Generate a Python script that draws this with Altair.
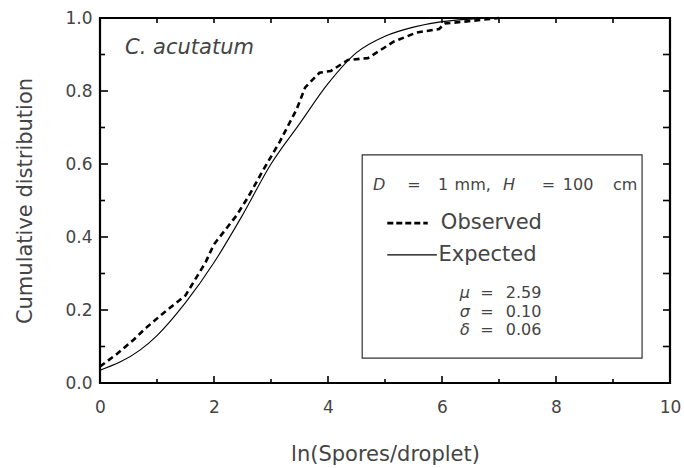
import altair as alt
import pandas as pd

# ---- data ----
obs_x = [0.0, 0.3, 0.6, 0.8, 1.1, 1.5, 1.85, 2.0, 2.2, 2.4, 2.6, 2.85, 3.15, 3.45, 3.6,
         3.85, 4.05, 4.35, 4.7, 4.9, 5.15, 5.55, 5.95, 6.05, 6.4, 7.0]
obs_y = [0.045, 0.08, 0.12, 0.15, 0.19, 0.24, 0.33, 0.38, 0.42, 0.46, 0.51, 0.58, 0.66,
         0.75, 0.81, 0.85, 0.855, 0.885, 0.89, 0.91, 0.935, 0.96, 0.97, 0.985, 0.99, 1.0]
exp_x = [0.0, 0.7, 1.0, 1.5, 2.0, 2.5, 3.0, 3.5, 4.0, 4.5, 5.0, 5.5, 6.0, 6.5, 7.0]
exp_y = [0.035, 0.09, 0.13, 0.22, 0.33, 0.46, 0.60, 0.71, 0.82, 0.905, 0.95, 0.975,
         0.99, 0.997, 1.0]

x_label_values = [0, 2, 4, 6, 8, 10]
y_label_values = [0.0, 0.2, 0.4, 0.6, 0.8, 1.0]
x_major = [2, 4, 6, 8]
x_minor = [1, 3, 5, 7, 9]
x_top = [1, 2, 3, 4, 5, 6, 7, 8, 9]
y_major = [0.2, 0.4, 0.6, 0.8]
y_minor = [0.1, 0.3, 0.5, 0.7, 0.9]
y_right = [0.1, 0.2, 0.3, 0.4, 0.5, 0.6, 0.7, 0.8, 0.9]

W, H = 570, 365
FONT = "DejaVu Sans"
TXT = "#444444"

xs = alt.Scale(domain=[0, 10], nice=False, zero=False)
ys = alt.Scale(domain=[0, 1], nice=False, zero=False)

X_AXIS = alt.Axis(title="ln(Spores/droplet)", values=x_label_values, format="d",
                  ticks=False, domain=False, grid=False, labelPadding=16, labelFlush=False,
                  labelFontSize=17, labelColor=TXT, labelFont=FONT,
                  titleFontSize=21, titleFontWeight="normal", titleColor=TXT,
                  titleFont=FONT, titleY=60, titleBaseline="top")
Y_AXIS = alt.Axis(title="Cumulative  distribution", values=y_label_values, format=".1f",
                  ticks=False, domain=False, grid=False, labelPadding=8, labelFlush=False,
                  labelFontSize=17, labelColor=TXT, labelFont=FONT,
                  titleFontSize=21, titleFontWeight="normal", titleColor=TXT,
                  titleFont=FONT, titleX=-75, titleBaseline="middle")

obs = pd.DataFrame({"x": obs_x, "y": obs_y})
exp = pd.DataFrame({"x": exp_x, "y": exp_y})
one = pd.DataFrame({"a": [0]})

frame = alt.Chart(one).mark_rect(fill="white", stroke="black", strokeWidth=2.2).encode(
    x=alt.XDatum(0, type="quantitative", scale=xs, axis=X_AXIS),
    x2=alt.X2Datum(10),
    y=alt.YDatum(0, type="quantitative", scale=ys, axis=Y_AXIS),
    y2=alt.Y2Datum(1),
)

expected = alt.Chart(exp).mark_line(color="black", strokeWidth=1.1, interpolate="monotone").encode(
    x=alt.X("x:Q", scale=xs, axis=X_AXIS),
    y=alt.Y("y:Q", scale=ys, axis=Y_AXIS),
)

observed = alt.Chart(obs).mark_line(color="black", strokeWidth=2.6, strokeDash=[6, 4]).encode(
    x=alt.X("x:Q", scale=xs, axis=X_AXIS),
    y=alt.Y("y:Q", scale=ys, axis=Y_AXIS),
)


def yticks(vals, x0, x1):
    return alt.Chart(pd.DataFrame({"y": vals})).mark_rule(color="black", strokeWidth=1.6).encode(
        y=alt.Y("y:Q", scale=ys, axis=Y_AXIS), x=alt.value(x0), x2=alt.value(x1))


def xticks(vals, y0, y1):
    return alt.Chart(pd.DataFrame({"x": vals})).mark_rule(color="black", strokeWidth=1.6).encode(
        x=alt.X("x:Q", scale=xs, axis=X_AXIS), y=alt.value(y0), y2=alt.value(y1))


ticks = [
    yticks(y_major, 0, 8), yticks(y_minor, 0, 5), yticks(y_right, W - 7, W),
    xticks(x_major, H - 7, H), xticks(x_minor, H - 4, H), xticks(x_top, 0, 5),
]


def label(text, x, y, size=16, style="normal", align="left"):
    return alt.Chart(one).mark_text(
        text=text, font=FONT, fontSize=size, fontStyle=style, color=TXT,
        align=align, baseline="middle").encode(
        x=alt.XDatum(x, type="quantitative", scale=xs, axis=X_AXIS),
        y=alt.YDatum(y, type="quantitative", scale=ys, axis=Y_AXIS))


box = alt.Chart(one).mark_rect(fill="white", stroke="#333333", strokeWidth=1.2).encode(
    x=alt.XDatum(4.6, type="quantitative", scale=xs, axis=X_AXIS),
    x2=alt.X2Datum(9.51),
    y=alt.YDatum(0.625, type="quantitative", scale=ys, axis=Y_AXIS),
    y2=alt.Y2Datum(0.068),
)


def legline(x0, x1, y, dash, width):
    kw = dict(color="black", strokeWidth=width)
    if dash:
        kw["strokeDash"] = dash
    return alt.Chart(one).mark_rule(**kw).encode(
        x=alt.XDatum(x0, type="quantitative", scale=xs, axis=X_AXIS),
        x2=alt.X2Datum(x1),
        y=alt.YDatum(y, type="quantitative", scale=ys, axis=Y_AXIS))


annotations = [
    box,
    label("C.  acutatum", 0.44, 0.918, size=21, style="italic"),
    label("D", 4.79, 0.542, size=16, style="italic"),
    label("=", 5.39, 0.542, size=16),
    label("1", 5.93, 0.542, size=16),
    label("mm,", 6.22, 0.542, size=16),
    label("H", 7.07, 0.542, size=16, style="italic"),
    label("=", 7.75, 0.542, size=16),
    label("100", 8.12, 0.542, size=16),
    label("cm", 9.0, 0.542, size=16),
    legline(5.04, 5.75, 0.438, [6, 3], 2.6),
    label("Observed", 5.98, 0.438, size=21),
    legline(5.04, 5.91, 0.351, None, 1.1),
    label("Expected", 5.94, 0.351, size=21),
    label("\u03bc", 6.4, 0.247, size=16, style="italic", align="center"),
    label("\u03c3", 6.4, 0.195, size=16, style="italic", align="center"),
    label("\u03b4", 6.4, 0.145, size=16, style="italic", align="center"),
    label("=", 6.79, 0.247, size=16, align="center"),
    label("=", 6.79, 0.195, size=16, align="center"),
    label("=", 6.79, 0.145, size=16, align="center"),
    label("2.59", 7.12, 0.247, size=16),
    label("0.10", 7.12, 0.195, size=16),
    label("0.06", 7.12, 0.145, size=16),
]

chart = alt.layer(frame, expected, observed, *ticks, *annotations).properties(
    width=W, height=H,
    autosize=alt.AutoSizeParams(type="none"),
    padding={"left": 100, "top": 18, "right": 14, "bottom": 85},
).configure(background="white").configure_view(stroke=None)

chart.save("out.html", embed_options={"renderer": "svg", "actions": False})
